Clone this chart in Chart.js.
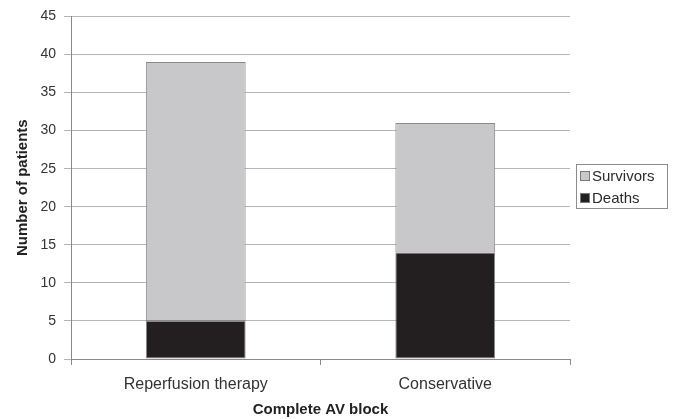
<!DOCTYPE html>
<html>
<head>
<meta charset="utf-8">
<script src="https://cdn.jsdelivr.net/npm/chart.js@4"></script>
<style>
  html, body { margin: 0; padding: 0; background: #fff; }
  #wrap { width: 675px; height: 419px; }
</style>
</head>
<body>
<div id="wrap"><canvas id="c" width="675" height="419"></canvas></div>
<script>
// Outcome of complete AV block by treatment strategy
const categories = ['Reperfusion therapy', 'Conservative'];
const deaths = [5, 14];
const survivors = [34, 17];
const yTicks = [0, 5, 10, 15, 20, 25, 30, 35, 40, 45];

const FONT = '"Liberation Sans", Arial, sans-serif';

// Boxed legend drawn to the right of the plot, Survivors above Deaths
const boxLegend = {
  id: 'boxLegend',
  afterDraw(chart) {
    const ctx = chart.ctx;
    const items = chart.data.datasets.slice().reverse();
    const x0 = 576, y0 = 164, w = 91, h = 44, rowH = 22;
    ctx.save();
    ctx.strokeStyle = '#8c8c8c';
    ctx.lineWidth = 1;
    ctx.strokeRect(x0 + 0.5, y0 + 0.5, w, h);
    ctx.font = '15px ' + FONT;
    ctx.textBaseline = 'middle';
    items.forEach((ds, i) => {
      const cy = y0 + 12 + i * rowH;
      ctx.fillStyle = ds.backgroundColor;
      ctx.fillRect(x0 + 5, cy - 4, 8, 8);
      ctx.strokeStyle = '#7a7a7a';
      ctx.strokeRect(x0 + 4.5, cy - 4.5, 9, 9);
      ctx.fillStyle = '#2a2a2a';
      ctx.fillText(ds.label, x0 + 16, cy + 1);
    });
    ctx.restore();
  }
};

new Chart(document.getElementById('c'), {
  type: 'bar',
  data: {
    labels: categories,
    datasets: [
      {
        label: 'Deaths',
        data: deaths,
        backgroundColor: '#231f20',
        borderColor: '#8a8a8a',
        borderWidth: 1,
        borderSkipped: false,
        barPercentage: 0.4,
        categoryPercentage: 1.0
      },
      {
        label: 'Survivors',
        data: survivors,
        backgroundColor: '#c8c8ca',
        borderColor: '#8a8a8a',
        borderWidth: 1,
        borderSkipped: false,
        barPercentage: 0.4,
        categoryPercentage: 1.0
      }
    ]
  },
  options: {
    responsive: false,
    animation: false,
    devicePixelRatio: 1,
    layout: { padding: { top: 11, right: 105, left: 0, bottom: 0 } },
    plugins: {
      legend: { display: false },
      tooltip: { enabled: false }
    },
    scales: {
      x: {
        stacked: true,
        afterFit(scale) { scale.height = 60; },
        grid: {
          offset: true,
          drawOnChartArea: false,
          drawTicks: true,
          tickLength: 6,
          color: '#8a8a8a'
        },
        border: { display: true, color: '#8a8a8a' },
        ticks: {
          color: '#333',
          font: { family: FONT, size: 16 },
          padding: 10
        },
        title: {
          display: true,
          text: 'Complete AV block',
          color: '#222',
          font: { family: FONT, size: 15, weight: 'bold' },
          padding: { top: 4, bottom: 0 }
        }
      },
      y: {
        stacked: true,
        min: 0,
        max: 45,
        afterFit(scale) { scale.width = 71; },
        afterBuildTicks(scale) { scale.ticks = yTicks.map(v => ({ value: v })); },
        grid: {
          color: '#b4b4b4',
          drawTicks: true,
          tickLength: 7
        },
        border: { display: true, color: '#8a8a8a' },
        ticks: {
          color: '#333',
          font: { family: FONT, size: 14 },
          padding: 8
        },
        title: {
          display: true,
          text: 'Number of patients',
          color: '#222',
          font: { family: FONT, size: 15, weight: 'bold' },
          padding: { top: 14, bottom: 4 }
        }
      }
    }
  },
  plugins: [boxLegend]
});
</script>
</body>
</html>
